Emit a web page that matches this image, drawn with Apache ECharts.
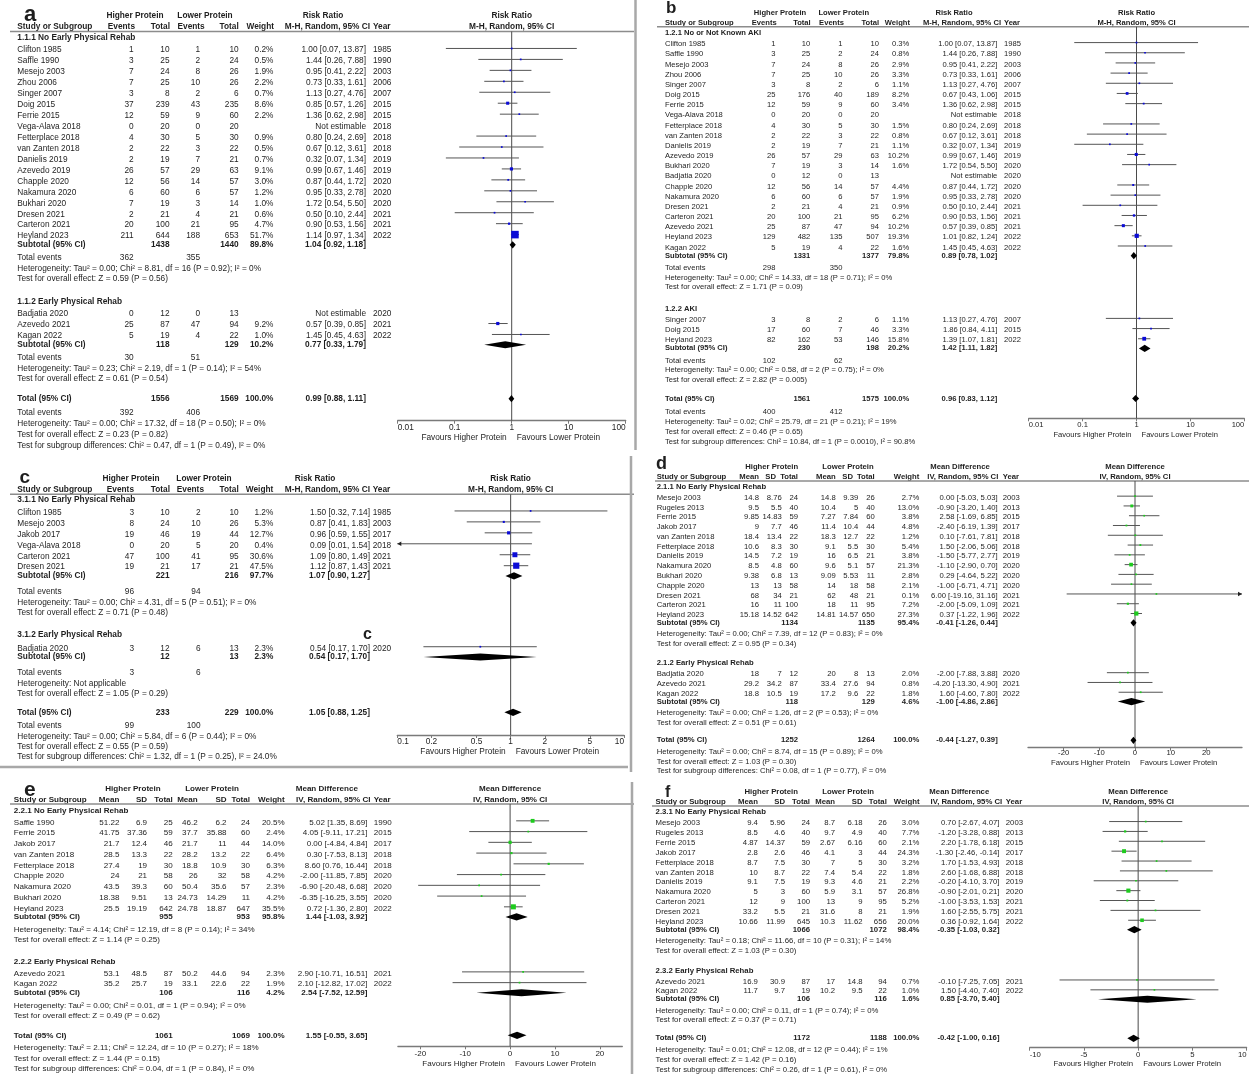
<!DOCTYPE html>
<html><head><meta charset="utf-8">
<script src="https://cdn.jsdelivr.net/npm/echarts@6/dist/echarts.min.js"></script>
<style>html,body{margin:0;padding:0;background:#fff}#main{width:1249px;height:1074px}</style>
</head><body><div id="main"></div>
<script>
// ---------------- DATA ----------------
const binaryHeads = ['Events','Total','Events','Total','Weight'];
const contHeads = ['Mean','SD','Total','Mean','SD','Total','Weight'];
const groupHeads = ['Higher Protein','Lower Protein'];
const favours = ['Favours Higher Protein','Favours Lower Protein'];

const aTicks=[0.01,0.1,1,10,100];
const bTicks=[0.01,0.1,1,10,100];
const cTicks=[0.1,0.2,0.5,1,2,5,10];
const dTicks=[-20,-10,0,10,20];
const eTicks=[-20,-10,0,10,20];
const fTicks=[-10,-5,0,5,10];

// panel a
const aGroupTitles=['1.1.1 No Early Physical Rehab','1.1.2 Early Physical Rehab'];
const aStudies1=[
['Clifton 1985',1,10,1,10,0.2,1.00,0.07,13.87,1985],
['Saffle 1990',3,25,2,24,0.5,1.44,0.26,7.88,1990],
['Mesejo 2003',7,24,8,26,1.9,0.95,0.41,2.22,2003],
['Zhou 2006',7,25,10,26,2.2,0.73,0.33,1.61,2006],
['Singer 2007',3,8,2,6,0.7,1.13,0.27,4.76,2007],
['Doig 2015',37,239,43,235,8.6,0.85,0.57,1.26,2015],
['Ferrie 2015',12,59,9,60,2.2,1.36,0.62,2.98,2015],
['Vega-Alava 2018',0,20,0,20,null,null,null,null,2018],
['Fetterplace 2018',4,30,5,30,0.9,0.80,0.24,2.69,2018],
['van Zanten 2018',2,22,3,22,0.5,0.67,0.12,3.61,2018],
['Danielis 2019',2,19,7,21,0.7,0.32,0.07,1.34,2019],
['Azevedo 2019',26,57,29,63,9.1,0.99,0.67,1.46,2019],
['Chapple 2020',12,56,14,57,3.0,0.87,0.44,1.72,2020],
['Nakamura 2020',6,60,6,57,1.2,0.95,0.33,2.78,2020],
['Bukhari 2020',7,19,3,14,1.0,1.72,0.54,5.50,2020],
['Dresen 2021',2,21,4,21,0.6,0.50,0.10,2.44,2021],
['Carteron 2021',20,100,21,95,4.7,0.90,0.53,1.56,2021],
['Heyland 2023',211,644,188,653,51.7,1.14,0.97,1.34,2022]];
const aSubtotal1=[1438,1440,89.8,1.04,0.92,1.18];
const aEvents1=[362,355];
const aTests1=['Heterogeneity: Tau² = 0.00; Chi² = 8.81, df = 16 (P = 0.92); I² = 0%','Test for overall effect: Z = 0.59 (P = 0.56)'];
const aStudies2=[
['Badjatia 2020',0,12,0,13,null,null,null,null,2020],
['Azevedo 2021',25,87,47,94,9.2,0.57,0.39,0.85,2021],
['Kagan 2022',5,19,4,22,1.0,1.45,0.45,4.63,2022]];
const aSubtotal2=[118,129,10.2,0.77,0.33,1.79];
const aEvents2=[30,51];
const aTests2=['Heterogeneity: Tau² = 0.23; Chi² = 2.19, df = 1 (P = 0.14); I² = 54%','Test for overall effect: Z = 0.61 (P = 0.54)'];
const aTotal=[1556,1569,100.0,0.99,0.88,1.11];
const aTotalEvents=[392,406];
const aTotalTests=['Heterogeneity: Tau² = 0.00; Chi² = 17.32, df = 18 (P = 0.50); I² = 0%','Test for overall effect: Z = 0.23 (P = 0.82)','Test for subgroup differences: Chi² = 0.47, df = 1 (P = 0.49), I² = 0%'];

// panel b
const bGroupTitles=['1.2.1 No or Not Known AKI','1.2.2 AKI'];
const bStudies1=[
['Clifton 1985',1,10,1,10,0.3,1.00,0.07,13.87,1985],
['Saffle 1990',3,25,2,24,0.8,1.44,0.26,7.88,1990],
['Mesejo 2003',7,24,8,26,2.9,0.95,0.41,2.22,2003],
['Zhou 2006',7,25,10,26,3.3,0.73,0.33,1.61,2006],
['Singer 2007',3,8,2,6,1.1,1.13,0.27,4.76,2007],
['Doig 2015',25,176,40,189,8.2,0.67,0.43,1.06,2015],
['Ferrie 2015',12,59,9,60,3.4,1.36,0.62,2.98,2015],
['Vega-Alava 2018',0,20,0,20,null,null,null,null,2018],
['Fetterplace 2018',4,30,5,30,1.5,0.80,0.24,2.69,2018],
['van Zanten 2018',2,22,3,22,0.8,0.67,0.12,3.61,2018],
['Danielis 2019',2,19,7,21,1.1,0.32,0.07,1.34,2019],
['Azevedo 2019',26,57,29,63,10.2,0.99,0.67,1.46,2019],
['Bukhari 2020',7,19,3,14,1.6,1.72,0.54,5.50,2020],
['Badjatia 2020',0,12,0,13,null,null,null,null,2020],
['Chapple 2020',12,56,14,57,4.4,0.87,0.44,1.72,2020],
['Nakamura 2020',6,60,6,57,1.9,0.95,0.33,2.78,2020],
['Dresen 2021',2,21,4,21,0.9,0.50,0.10,2.44,2021],
['Carteron 2021',20,100,21,95,6.2,0.90,0.53,1.56,2021],
['Azevedo 2021',25,87,47,94,10.2,0.57,0.39,0.85,2021],
['Heyland 2023',129,482,135,507,19.3,1.01,0.82,1.24,2022],
['Kagan 2022',5,19,4,22,1.6,1.45,0.45,4.63,2022]];
const bSubtotal1=[1331,1377,79.8,0.89,0.78,1.02];
const bEvents1=[298,350];
const bTests1=['Heterogeneity: Tau² = 0.00; Chi² = 14.33, df = 18 (P = 0.71); I² = 0%','Test for overall effect: Z = 1.71 (P = 0.09)'];
const bStudies2=[
['Singer 2007',3,8,2,6,1.1,1.13,0.27,4.76,2007],
['Doig 2015',17,60,7,46,3.3,1.86,0.84,4.11,2015],
['Heyland 2023',82,162,53,146,15.8,1.39,1.07,1.81,2022]];
const bSubtotal2=[230,198,20.2,1.42,1.11,1.82];
const bEvents2=[102,62];
const bTests2=['Heterogeneity: Tau² = 0.00; Chi² = 0.58, df = 2 (P = 0.75); I² = 0%','Test for overall effect: Z = 2.82 (P = 0.005)'];
const bTotal=[1561,1575,100.0,0.96,0.83,1.12];
const bTotalEvents=[400,412];
const bTotalTests=['Heterogeneity: Tau² = 0.02; Chi² = 25.79, df = 21 (P = 0.21); I² = 19%','Test for overall effect: Z = 0.46 (P = 0.65)','Test for subgroup differences: Chi² = 10.84, df = 1 (P = 0.0010), I² = 90.8%'];

// panel c
const cGroupTitles=['3.1.1 No Early Physical Rehab','3.1.2 Early Physical Rehab'];
const cStudies1=[
['Clifton 1985',3,10,2,10,1.2,1.50,0.32,7.14,1985],
['Mesejo 2003',8,24,10,26,5.3,0.87,0.41,1.83,2003],
['Jakob 2017',19,46,19,44,12.7,0.96,0.59,1.55,2017],
['Vega-Alava 2018',0,20,5,20,0.4,0.09,0.01,1.54,2018],
['Carteron 2021',47,100,41,95,30.6,1.09,0.80,1.49,2021],
['Dresen 2021',19,21,17,21,47.5,1.12,0.87,1.43,2021]];
const cSubtotal1=[221,216,97.7,1.07,0.90,1.27];
const cEvents1=[96,94];
const cTests1=['Heterogeneity: Tau² = 0.00; Chi² = 4.31, df = 5 (P = 0.51); I² = 0%','Test for overall effect: Z = 0.71 (P = 0.48)'];
const cStudies2=[['Badjatia 2020',3,12,6,13,2.3,0.54,0.17,1.70,2020]];
const cSubtotal2=[12,13,2.3,0.54,0.17,1.70];
const cEvents2=[3,6];
const cTests2=['Heterogeneity: Not applicable','Test for overall effect: Z = 1.05 (P = 0.29)'];
const cTotal=[233,229,100.0,1.05,0.88,1.25];
const cTotalEvents=[99,100];
const cTotalTests=['Heterogeneity: Tau² = 0.00; Chi² = 5.84, df = 6 (P = 0.44); I² = 0%','Test for overall effect: Z = 0.55 (P = 0.59)','Test for subgroup differences: Chi² = 1.32, df = 1 (P = 0.25), I² = 24.0%'];

// panel d
const dGroupTitles=['2.1.1 No Early Physical Rehab','2.1.2 Early Physical Rehab'];
const dStudies1=[
['Mesejo 2003',14.8,8.76,24,14.8,9.39,26,2.7,0.00,-5.03,5.03,2003],
['Rugeles 2013',9.5,5.5,40,10.4,5,40,13.0,-0.90,-3.20,1.40,2013],
['Ferrie 2015',9.85,14.83,59,7.27,7.84,60,3.8,2.58,-1.69,6.85,2015],
['Jakob 2017',9,7.7,46,11.4,10.4,44,4.8,-2.40,-6.19,1.39,2017],
['van Zanten 2018',18.4,13.4,22,18.3,12.7,22,1.2,0.10,-7.61,7.81,2018],
['Fetterplace 2018',10.6,8.3,30,9.1,5.5,30,5.4,1.50,-2.06,5.06,2018],
['Danielis 2019',14.5,7.2,19,16,6.5,21,3.8,-1.50,-5.77,2.77,2019],
['Nakamura 2020',8.5,4.8,60,9.6,5.1,57,21.3,-1.10,-2.90,0.70,2020],
['Bukhari 2020',9.38,6.8,13,9.09,5.53,11,2.8,0.29,-4.64,5.22,2020],
['Chapple 2020',13,13,58,14,18,58,2.1,-1.00,-6.71,4.71,2020],
['Dresen 2021',68,34,21,62,48,21,0.1,6.00,-19.16,31.16,2021],
['Carteron 2021',16,11,100,18,11,95,7.2,-2.00,-5.09,1.09,2021],
['Heyland 2023',15.18,14.52,642,14.81,14.57,650,27.3,0.37,-1.22,1.96,2022]];
const dSubtotal1=[1134,1135,95.4,-0.41,-1.26,0.44];
const dTests1=['Heterogeneity: Tau² = 0.00; Chi² = 7.39, df = 12 (P = 0.83); I² = 0%','Test for overall effect: Z = 0.95 (P = 0.34)'];
const dStudies2=[
['Badjatia 2020',18,7,12,20,8,13,2.0,-2.00,-7.88,3.88,2020],
['Azevedo 2021',29.2,34.2,87,33.4,27.6,94,0.8,-4.20,-13.30,4.90,2021],
['Kagan 2022',18.8,10.5,19,17.2,9.6,22,1.8,1.60,-4.60,7.80,2022]];
const dSubtotal2=[118,129,4.6,-1.00,-4.86,2.86];
const dTests2=['Heterogeneity: Tau² = 0.00; Chi² = 1.26, df = 2 (P = 0.53); I² = 0%','Test for overall effect: Z = 0.51 (P = 0.61)'];
const dTotal=[1252,1264,100.0,-0.44,-1.27,0.39];
const dTotalTests=['Heterogeneity: Tau² = 0.00; Chi² = 8.74, df = 15 (P = 0.89); I² = 0%','Test for overall effect: Z = 1.03 (P = 0.30)','Test for subgroup differences: Chi² = 0.08, df = 1 (P = 0.77), I² = 0%'];

// panel e
const eGroupTitles=['2.2.1 No Early Physical Rehab','2.2.2 Early Physical Rehab'];
const eStudies1=[
['Saffle 1990',51.22,6.9,25,46.2,6.2,24,20.5,5.02,1.35,8.69,1990],
['Ferrie 2015',41.75,37.36,59,37.7,35.88,60,2.4,4.05,-9.11,17.21,2015],
['Jakob 2017',21.7,12.4,46,21.7,11,44,14.0,0.00,-4.84,4.84,2017],
['van Zanten 2018',28.5,13.3,22,28.2,13.2,22,6.4,0.30,-7.53,8.13,2018],
['Fetterplace 2018',27.4,19,30,18.8,10.9,30,6.3,8.60,0.76,16.44,2018],
['Chapple 2020',24,21,58,26,32,58,4.2,-2.00,-11.85,7.85,2020],
['Nakamura 2020',43.5,39.3,60,50.4,35.6,57,2.3,-6.90,-20.48,6.68,2020],
['Bukhari 2020',18.38,9.51,13,24.73,14.29,11,4.2,-6.35,-16.25,3.55,2020],
['Heyland 2023',25.5,19.19,642,24.78,18.87,647,35.5,0.72,-1.36,2.80,2022]];
const eSubtotal1=[955,953,95.8,1.44,-1.03,3.92];
const eTests1=['Heterogeneity: Tau² = 4.14; Chi² = 12.19, df = 8 (P = 0.14); I² = 34%','Test for overall effect: Z = 1.14 (P = 0.25)'];
const eStudies2=[
['Azevedo 2021',53.1,48.5,87,50.2,44.6,94,2.3,2.90,-10.71,16.51,2021],
['Kagan 2022',35.2,25.7,19,33.1,22.6,22,1.9,2.10,-12.82,17.02,2022]];
const eSubtotal2=[106,116,4.2,2.54,-7.52,12.59];
const eTests2=['Heterogeneity: Tau² = 0.00; Chi² = 0.01, df = 1 (P = 0.94); I² = 0%','Test for overall effect: Z = 0.49 (P = 0.62)'];
const eTotal=[1061,1069,100.0,1.55,-0.55,3.65];
const eTotalTests=['Heterogeneity: Tau² = 2.11; Chi² = 12.24, df = 10 (P = 0.27); I² = 18%','Test for overall effect: Z = 1.44 (P = 0.15)','Test for subgroup differences: Chi² = 0.04, df = 1 (P = 0.84), I² = 0%'];

// panel f
const fGroupTitles=['2.3.1 No Early Physical Rehab','2.3.2 Early Physical Rehab'];
const fStudies1=[
['Mesejo 2003',9.4,5.96,24,8.7,6.18,26,3.0,0.70,-2.67,4.07,2003],
['Rugeles 2013',8.5,4.6,40,9.7,4.9,40,7.7,-1.20,-3.28,0.88,2013],
['Ferrie 2015',4.87,14.37,59,2.67,6.16,60,2.1,2.20,-1.78,6.18,2015],
['Jakob 2017',2.8,2.6,46,4.1,3,44,24.3,-1.30,-2.46,-0.14,2017],
['Fetterplace 2018',8.7,7.5,30,7,5,30,3.2,1.70,-1.53,4.93,2018],
['van Zanten 2018',10,8.7,22,7.4,5.4,22,1.8,2.60,-1.68,6.88,2018],
['Danielis 2019',9.1,7.5,19,9.3,4.6,21,2.2,-0.20,-4.10,3.70,2019],
['Nakamura 2020',5,3,60,5.9,3.1,57,26.8,-0.90,-2.01,0.21,2020],
['Carteron 2021',12,9,100,13,9,95,5.2,-1.00,-3.53,1.53,2021],
['Dresen 2021',33.2,5.5,21,31.6,8,21,1.9,1.60,-2.55,5.75,2021],
['Heyland 2023',10.66,11.99,645,10.3,11.62,656,20.0,0.36,-0.92,1.64,2022]];
const fSubtotal1=[1066,1072,98.4,-0.35,-1.03,0.32];
const fTests1=['Heterogeneity: Tau² = 0.18; Chi² = 11.66, df = 10 (P = 0.31); I² = 14%','Test for overall effect: Z = 1.03 (P = 0.30)'];
const fStudies2=[
['Azevedo 2021',16.9,30.9,87,17,14.8,94,0.7,-0.10,-7.25,7.05,2021],
['Kagan 2022',11.7,9.7,19,10.2,9.5,22,1.0,1.50,-4.40,7.40,2022]];
const fSubtotal2=[106,116,1.6,0.85,-3.70,5.40];
const fTests2=['Heterogeneity: Tau² = 0.00; Chi² = 0.11, df = 1 (P = 0.74); I² = 0%','Test for overall effect: Z = 0.37 (P = 0.71)'];
const fTotal=[1172,1188,100.0,-0.42,-1.00,0.16];
const fTotalTests=['Heterogeneity: Tau² = 0.01; Chi² = 12.08, df = 12 (P = 0.44); I² = 1%','Test for overall effect: Z = 1.42 (P = 0.16)','Test for subgroup differences: Chi² = 0.26, df = 1 (P = 0.61), I² = 0%'];

// ---------------- LAYOUT (positions & styles only) ----------------
const FONT='"Liberation Sans", Arial, Helvetica, sans-serif';
const TXT='#1e1e1e';
const BLUE='#0b0bd6', GREEN='#1ecb1e';
const DEF={h1:1.12,s:0.8,te:1.2,ls:0.95,gap:2.1,tot:1.83,tote:1.28,ls2:1.0,sh:1.18,toth:1.16,dy:1.5,dh:3.6};

const panels=[
 {id:'a',binary:true,effTitle:'Risk Ratio',method:'M-H, Random, 95% CI',sq:BLUE,ticks:aTicks,
  groups:[{title:aGroupTitles[0],studies:aStudies1,sub:aSubtotal1,ev:aEvents1,tests:aTests1},{title:aGroupTitles[1],studies:aStudies2,sub:aSubtotal2,ev:aEvents2,tests:aTests2}],
  total:aTotal,totalEv:aTotalEvents,totalTests:aTotalTests,
  lay:{log:true,xMin:0.01,xMax:100,nullV:1,gx0:397.7,gx1:625.7,hdrY:31.5,axY:420.7,y0:37.7,u:10.95,font:8.3,k:1.05,
   studyX:17.3,cols:[133.7,169.5,200,238.7,273.5],hcols:[135,170,204.7,238.7,274],ci:366,ciH:370,yr:373,
   h1y:15.7,h2y:26.7,line:[10,634],hp:135,lp:205,eff:323,label:[24,15.2,22],lm:3,favOff:17,alignEnds:true}},
 {id:'b',binary:true,effTitle:'Risk Ratio',method:'M-H, Random, 95% CI',sq:BLUE,ticks:bTicks,
  groups:[{title:bGroupTitles[0],studies:bStudies1,sub:bSubtotal1,ev:bEvents1,tests:bTests1},{title:bGroupTitles[1],studies:bStudies2,sub:bSubtotal2,ev:bEvents2,tests:bTests2}],
  total:bTotal,totalEv:bTotalEvents,totalTests:bTotalTests,
  lay:{log:true,xMin:0.01,xMax:100,nullV:1,gx0:1028.7,gx1:1244.3,hdrY:26.7,axY:418.3,y0:32.7,u:10.17,font:7.6,k:0.95,
   studyX:665,cols:[775.5,810.3,842.5,879,909.3],hcols:[776.7,810.7,844,879,910],ci:997.3,ciH:1001,yr:1004,
   h1y:12.7,h2y:22.7,line:[657,1249],hp:780,lp:843.7,eff:954,label:[666,8,17],lm:3,favOff:16.7,alignEnds:true}},
 {id:'c',binary:true,effTitle:'Risk Ratio',method:'M-H, Random, 95% CI',sq:BLUE,ticks:cTicks,
  groups:[{title:cGroupTitles[0],studies:cStudies1,sub:cSubtotal1,ev:cEvents1,tests:cTests1},{title:cGroupTitles[1],studies:cStudies2,sub:cSubtotal2,ev:cEvents2,tests:cTests2}],
  total:cTotal,totalEv:cTotalEvents,totalTests:cTotalTests,
  lay:{log:true,xMin:0.1,xMax:10,nullV:1,gx0:397.3,gx1:624,hdrY:494.3,axY:735,y0:499.3,u:10.95,font:8.3,k:0.9,
   h1:1.2,te:1.4,ls:1.0,gap:2.0,tot:1.65,tote:1.25,ls2:0.95,
   studyX:17.3,cols:[134,169.5,200.5,238.7,273.3],hcols:[134,170,204,238.7,273.3],ci:370,ciH:370,yr:372.7,
   h1y:479,h2y:490,line:[10,634],hp:131,lp:204,eff:315,label:[19.5,477.4,19],lm:3,favOff:17,alignEnds:true}},
 {id:'d',binary:false,effTitle:'Mean Difference',method:'IV, Random, 95% CI',sq:GREEN,ticks:dTicks,
  groups:[{title:dGroupTitles[0],studies:dStudies1,sub:dSubtotal1,tests:dTests1},{title:dGroupTitles[1],studies:dStudies2,sub:dSubtotal2,tests:dTests2}],
  total:dTotal,totalTests:dTotalTests,
  lay:{log:false,xMin:-30,xMax:30,nullV:0,gx0:1028,gx1:1242,hdrY:481,axY:747.7,y0:486.7,u:9.78,font:7.7,k:0.8,gap:2.0,
   studyX:656.7,cols:[759,781.7,798,835.7,858.3,874.7,919.3],hcols:[759,776,798,835.7,853,874.7,919.3],ci:997.7,ciH:998.3,yr:1002.7,
   h1y:466.7,h2y:476.7,line:[655,1249],hp:771.7,lp:848,eff:960,label:[656,464.4,18],lm:1.5,favOff:15.6,alignEnds:false}},
 {id:'e',binary:false,effTitle:'Mean Difference',method:'IV, Random, 95% CI',sq:GREEN,ticks:eTicks,
  groups:[{title:eGroupTitles[0],studies:eStudies1,sub:eSubtotal1,tests:eTests1},{title:eGroupTitles[1],studies:eStudies2,sub:eSubtotal2,tests:eTests2}],
  total:eTotal,totalTests:eTotalTests,
  lay:{log:false,xMin:-25,xMax:25,nullV:0,gx0:397.9,gx1:622.3,hdrY:804,axY:1046.3,y0:810.3,u:10.75,font:8.05,k:0.85,gap:2.0,
   studyX:13.8,cols:[119.4,147.1,172.8,197.7,226.6,250,284.7],ci:367.5,ciH:370.5,yr:373.7,
   h1y:788.7,h2y:799.7,line:[10,634],hp:133,lp:212,eff:326.8,label:[24,789.8,21],lm:3.5,favOff:17.4,alignEnds:false}},
 {id:'f',binary:false,effTitle:'Mean Difference',method:'IV, Random, 95% CI',sq:GREEN,ticks:fTicks,
  groups:[{title:fGroupTitles[0],studies:fStudies1,sub:fSubtotal1,tests:fTests1},{title:fGroupTitles[1],studies:fStudies2,sub:fSubtotal2,tests:fTests2}],
  total:fTotal,totalTests:fTotalTests,
  lay:{log:false,xMin:-10,xMax:10,interval:5,nullV:0,gx0:1029.7,gx1:1246.6,hdrY:806,axY:1047.7,y0:812,u:9.87,font:7.75,k:0.8,gap:2.0,
   studyX:655.6,cols:[757.9,785,810,835.1,862.6,886.8,919.5],ci:999.5,ciH:1002.2,yr:1005.8,
   h1y:792,h2y:802,line:[652,1249],hp:771.2,lp:848.2,eff:959.3,label:[665,793,16],lm:3,favOff:16.3,alignEnds:true}}
];

function ciStr(e,l,h){return e.toFixed(2)+' ['+l.toFixed(2)+', '+h.toFixed(2)+']';}

function buildRows(p){
  const L=p.L; const rows=[]; let y=0;
  p.groups.forEach((g,gi)=>{
    if(gi>0) y+=L.gap;
    rows.push({t:'head',y,text:g.title});
    y+=L.h1;
    g.studies.forEach((s,i)=>{ if(i>0) y+=1; rows.push({t:'study',y,d:s}); });
    y+=L.s; rows.push({t:'sub',y,d:g.sub});
    if(p.binary){ y+=L.te; rows.push({t:'ev',y,d:g.ev}); y+=L.ls; } else { y+=L.sh; }
    g.tests.forEach((tx,i)=>{ if(i>0) y+=L.ls; rows.push({t:'note',y,text:tx}); });
  });
  y+=L.tot; rows.push({t:'total',y,d:p.total});
  if(p.binary){ y+=L.tote; rows.push({t:'ev',y,d:p.totalEv}); y+=L.ls2; } else { y+=L.toth; }
  p.totalTests.forEach((tx,i)=>{ if(i>0) y+=L.ls2; rows.push({t:'note',y,text:tx}); });
  rows.forEach(r=>{ r.py=L.y0+r.y*L.u; });
  rows.push({t:'ph1',py:L.h1y},{t:'ph2',py:L.h2y},{t:'fav',py:L.axY+L.favOff});
  return rows;
}

const grids=[],xAxes=[],yAxes=[],series=[],graphics=[];
panels.forEach((p,pi)=>{
  p.L=Object.assign({},DEF,p.lay);
  const L=p.L;
  const rows=buildRows(p);
  grids.push({left:L.gx0,top:L.hdrY,width:L.gx1-L.gx0,height:L.axY-L.hdrY,containLabel:false,outerBoundsMode:'none'});
  const xa={gridIndex:pi,type:L.log?'log':'value',min:L.xMin,max:L.xMax,position:'bottom',
    axisLine:{show:true,onZero:false,lineStyle:{color:'#7a7a7a',width:1.3}},
    axisTick:{show:true,length:3,lineStyle:{color:'#7a7a7a',width:1},customValues:p.ticks},
    axisLabel:{show:true,margin:L.lm,fontSize:L.font,fontFamily:FONT,color:TXT,customValues:p.ticks,
      showMinLabel:true,showMaxLabel:true,
      formatter:v=>String(+(+v).toPrecision(3))},
    splitLine:{show:false}};
  if(L.log) xa.logBase=10;
  if(L.interval) xa.interval=L.interval;
  if(L.alignEnds){xa.axisLabel.alignMinLabel='left';xa.axisLabel.alignMaxLabel='right';}
  xAxes.push(xa);
  yAxes.push({gridIndex:pi,type:'value',inverse:true,min:L.hdrY,max:L.axY,show:false});

  // marks: null line, CI lines, squares, diamonds
  const md=[[L.nullV,L.hdrY,L.nullV,L.nullV,0,2]];
  rows.forEach(r=>{
    if(r.t==='study'){
      const d=r.d,o=p.binary?5:7;
      if(d[o+1]!=null) md.push([d[o+1],r.py,d[o+2],d[o+3],d[o],0]);
    } else if(r.t==='sub'||r.t==='total'){
      md.push([r.d[3],r.py,r.d[4],r.d[5],0,1]);
    }
  });
  series.push({type:'custom',xAxisIndex:pi,yAxisIndex:pi,silent:true,clip:false,animation:false,z:3,
    data:md,encode:{x:0,y:1},
    renderItem:(params,api)=>{
      const kind=api.value(5);
      if(kind===2){
        const a=api.coord([L.nullV,L.hdrY]),b=api.coord([L.nullV,L.axY]);
        return {type:'line',shape:{x1:a[0],y1:a[1],x2:b[0],y2:b[1]},style:{stroke:'#4a4a4a',lineWidth:1}};
      }
      const yv=api.value(1),est=api.value(0),lo=api.value(2),hi=api.value(3);
      const cy=api.coord([L.nullV,yv])[1]-(kind===0?L.dy:0);
      const X=v=>api.coord([Math.min(Math.max(v,L.xMin),L.xMax),yv])[0];
      const xe=X(est),xl=X(lo),xh=X(hi);
      if(kind===1){
        const h=L.dh;
        return {type:'polygon',shape:{points:[[xl,cy],[xe,cy-h],[xh,cy],[xe,cy+h]]},style:{fill:'#000'}};
      }
      const ch=[{type:'line',shape:{x1:xl,y1:cy,x2:xh,y2:cy},style:{stroke:'#555',lineWidth:1}}];
      if(lo<L.xMin) ch.push({type:'polygon',shape:{points:[[xl,cy],[xl+4,cy-2.3],[xl+4,cy+2.3]]},style:{fill:'#222'}});
      if(hi>L.xMax) ch.push({type:'polygon',shape:{points:[[xh,cy],[xh-4,cy-2.3],[xh-4,cy+2.3]]},style:{fill:'#222'}});
      if(est>=L.xMin&&est<=L.xMax){
        const sz=Math.max(1.7,L.k*Math.sqrt(api.value(4)));
        ch.push({type:'rect',shape:{x:xe-sz/2,y:cy-sz/2,width:sz,height:sz},style:{fill:p.sq}});
      }
      return {type:'group',children:ch};
    }});

  // table texts
  series.push({type:'custom',xAxisIndex:pi,yAxisIndex:pi,silent:true,clip:false,animation:false,z:4,
    data:rows.map((r,i)=>[L.nullV,r.py,i]),encode:{x:0,y:1},
    renderItem:(params,api)=>{
      const r=rows[api.value(2)];
      const pt=api.coord([L.nullV,api.value(1)]);
      const y=pt[1],ch=[],c=L.cols;
      const T=(text,x,align,bold)=>{
        if(text===null||text===undefined||text==='') return;
        ch.push({type:'text',silent:true,style:{text:String(text),x,y,align,verticalAlign:'middle',textAlign:align,textVerticalAlign:'middle',
          font:(bold?'bold ':'')+L.font+'px '+FONT,fill:TXT}});
      };
      if(r.t==='head') T(r.text,L.studyX,'left',true);
      else if(r.t==='note') T(r.text,L.studyX,'left',false);
      else if(r.t==='ev'){ T('Total events',L.studyX,'left'); T(r.d[0],c[0],'right'); T(r.d[1],c[2],'right'); }
      else if(r.t==='study'){
        const d=r.d,n=p.binary?4:6;
        T(d[0],L.studyX,'left');
        for(let i=0;i<n;i++) T(d[1+i],c[i],'right');
        const w=d[1+n],est=d[2+n],lo=d[3+n],hi=d[4+n],yr=d[5+n];
        if(w!=null) T(w.toFixed(1)+'%',c[n],'right');
        T(est==null?'Not estimable':ciStr(est,lo,hi),L.ci,'right');
        T(yr,L.yr,'left');
      } else if(r.t==='sub'||r.t==='total'){
        const d=r.d;
        T(r.t==='sub'?'Subtotal (95% CI)':'Total (95% CI)',L.studyX,'left',true);
        const iA=p.binary?1:2,iB=p.binary?3:5,iW=p.binary?4:6;
        T(d[0],c[iA],'right',true); T(d[1],c[iB],'right',true);
        T(d[2].toFixed(1)+'%',c[iW],'right',true);
        T(ciStr(d[3],d[4],d[5]),L.ci,'right',true);
      } else if(r.t==='fav'){
        T(favours[0],pt[0]-5,'right'); T(favours[1],pt[0]+5,'left');
      } else if(r.t==='ph1') T(p.effTitle,pt[0],'center',true);
      else if(r.t==='ph2') T(p.method,pt[0],'center',true);
      return {type:'group',children:ch};
    }});

  // static headers
  const G=(text,x,y,align,bold,size)=>graphics.push({type:'text',x,y,silent:true,
    style:{text,font:(bold?'bold ':'')+(size||L.font)+'px '+FONT,fill:TXT,align,verticalAlign:'middle',textAlign:align,textVerticalAlign:'middle'}});
  G(p.id,L.label[0],L.label[1],'left',true,L.label[2]);
  G(groupHeads[0],L.hp,L.h1y,'center',true);
  G(groupHeads[1],L.lp,L.h1y,'center',true);
  G(p.effTitle,L.eff,L.h1y,'center',true);
  G('Study or Subgroup',L.studyX,L.h2y,'left',true);
  const heads=p.binary?binaryHeads:contHeads, hc=L.hcols||L.cols;
  heads.forEach((h,i)=>G(h,hc[i],L.h2y,'right',true));
  G(p.method,L.ciH,L.h2y,'right',true);
  G('Year',L.yr,L.h2y,'left',true);
  graphics.push({type:'line',silent:true,shape:{x1:L.line[0],y1:L.hdrY,x2:L.line[1],y2:L.hdrY},style:{stroke:'#8c8c8c',lineWidth:1.5}});
});

// stray label in panel c and panel frames
graphics.push({type:'text',x:363,y:635,silent:true,style:{text:'c',font:'bold 16px '+FONT,fill:TXT,align:'left',verticalAlign:'middle',textAlign:'left',textVerticalAlign:'middle'}});
const frameLines=[[635.5,0,635.5,450],[631,456,631,772],[632,782,632,1074],[0,767,628,767]];
frameLines.forEach(f=>graphics.push({type:'line',silent:true,shape:{x1:f[0],y1:f[1],x2:f[2],y2:f[3]},style:{stroke:'#a8a8a8',lineWidth:2.5}}));

const chart=echarts.init(document.getElementById('main'),null,{renderer:'canvas'});
chart.setOption({animation:false,backgroundColor:'#fff',grid:grids,xAxis:xAxes,yAxis:yAxes,series,graphic:{elements:graphics}});
</script></body></html>
